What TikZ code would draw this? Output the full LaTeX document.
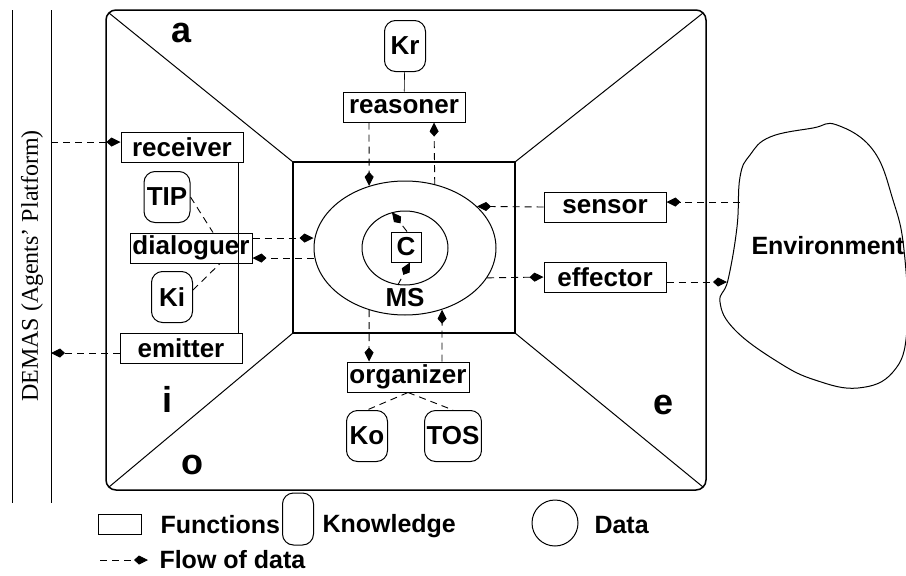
\documentclass[tikz,border=0pt]{standalone}
\usepackage{fontspec}
\setmainfont{Liberation Serif}
\setsansfont{Liberation Sans}
\usetikzlibrary{positioning,arrows.meta,calc,shapes.geometric}

\newcommand{\lab}{\sffamily\bfseries\fontsize{26}{28}\selectfont}
\newcommand{\leg}{\sffamily\bfseries\fontsize{25}{28}\selectfont}
\newcommand{\zone}{\sffamily\bfseries\fontsize{36}{38}\selectfont}

\tikzset{
  func/.style={draw, line width=1pt, minimum width=122pt, minimum height=30pt, inner sep=1pt, font=\lab},
  know/.style={draw, rounded corners=11pt, minimum height=51pt, inner sep=2pt, font=\lab},
  flow/.style={dash pattern=on 7pt off 5pt, line width=0.9pt, -{Kite[length=14pt,width=9pt,inset=5pt]}},
  link/.style={dash pattern=on 7pt off 5pt, line width=0.9pt},
}

\begin{document}
\begin{tikzpicture}[x=1pt,y=-1pt,line width=1pt]
  \useasboundingbox (0,0) rectangle (906,576);

  % platform band
  \draw (12,10) -- (12,503);
  \draw (51,10) -- (51,503);
  \node[rotate=90, font=\fontsize{24}{26}\selectfont] (demas) at (32,266) {DEMAS (Agents' Platform)};
  \coordinate (pin) at (51,142);
  \coordinate (pout) at (51,353);

  % agent frame
  \draw[line width=1.5pt, rounded corners=10pt] (106,10) rectangle (706,490);
  \draw[line width=1.3pt] (293,162) rectangle (515,333);
  \draw (109,13) -- (293,162);
  \draw (109,487) -- (293,333);
  \draw (703,13) -- (515,162);
  \draw (703,487) -- (515,333);

  \node[font=\zone] (za) at (182,33) {a};
  \node[font=\zone] (zi) at (167,399) {i};
  \node[font=\zone] (zo) at (192,465) {o};
  \node[font=\zone] (ze) at (664,405) {e};

  % interaction side
  \node[func] (receiver) at (182,147) {receiver};
  \node[know, minimum width=46pt] (tip) at (167,197) {TIP};
  \node[func] (dialoguer) at (191,248) {dialoguer};
  \node[know, minimum width=41pt] (ki) at (172,297) {Ki};
  \node[func] (emitter) at (181,348) {emitter};
  \draw ($(receiver.south east)+(-5,0)$) -- ($(emitter.north east)+(-4,0)$);

  % reasoning side
  \node[know, minimum width=41pt] (kr) at (405,46) {Kr};
  \node[func] (reasoner) at (404,107) {reasoner};

  % mental state
  \node[draw, ellipse, minimum width=182pt, minimum height=134pt] (ms) at (405,248) {};
  \node[draw, ellipse, minimum width=86pt, minimum height=74pt] (msin) at (405,248) {};
  \node[draw, font=\lab, minimum size=30pt, inner sep=1pt] (core) at (406,247) {C};
  \node[font=\lab] (mslab) at (405,298) {MS};

  % environment side
  \node[func] (sensor) at (605,207) {sensor};
  \node[func] (effector) at (605,277) {effector};
  \draw plot[smooth cycle, tension=0.7] coordinates {(740,177) (750,155) (770,137) (813,128) (837,125) (873,150) (893,200) (904,250) (907,330) (893,372) (858,388) (815,380) (778,362) (735,330) (720,302) (728,280) (737,227)};
  \node[font=\leg, anchor=base west, inner sep=0pt] (env) at (751,254) {Environment};
  \coordinate (envin) at (740,202);
  \coordinate (envout) at (727,282);

  % organization side
  \node[func] (organizer) at (408,377) {organizer};
  \node[know, minimum width=41pt] (ko) at (367,436) {Ko};
  \node[know, minimum width=50pt] (tos) at (453,436) {TOS};

  % flows
  \draw[flow] (pin) -- (pin -| receiver.west);
  \draw[flow] (pout -| emitter.west) -- (pout);
  \draw[flow] ([yshift=10pt]dialoguer.east) -- ([yshift=10pt]ms.west);
  \draw[flow] ([yshift=-10pt]ms.west) -- ([yshift=-10pt]dialoguer.east);
  \draw[flow] ([xshift=-35pt]reasoner.south) -- (ms.120);
  \draw[flow] (ms.65) -- ([xshift=30pt]reasoner.south);
  \draw[flow] (ms.-120) -- ([xshift=-39pt]organizer.north);
  \draw[flow] ([xshift=34pt]organizer.north) -- (ms.-59);
  \draw[flow] (envin) -- (envin -| sensor.east);
  \draw[flow] (sensor.west) -- (ms.30);
  \draw[flow] (ms.-20) -- (effector.west);
  \draw[flow] (envout -| effector.east) -- (envout);
  \draw[flow] ([xshift=1pt]core.north) -- (msin.110);
  \draw[flow] (msin.-101) -- ([xshift=4pt]core.south);

  % knowledge links
  \draw[link] (tip.east) -- ([xshift=22pt]dialoguer.north);
  \draw[link] ([yshift=7pt]ki.east) -- ([xshift=29pt]dialoguer.south);
  \draw[line width=0.6pt] (kr) -- (reasoner);
  \draw[link] (organizer.south) -- (ko.north);
  \draw[link] (organizer.south) -- (tos.north);

  % legend
  \node[draw, minimum width=43pt, minimum height=20pt] (lfunc) at (120,524) {};
  \node[font=\leg, anchor=base west, inner sep=0pt] (tfunc) at (160,533) {Functions};
  \node[draw, rounded corners=11pt, minimum width=31pt, minimum height=52pt] (lknow) at (298,519) {};
  \node[font=\leg, anchor=base west, inner sep=0pt] (tknow) at (322,532) {Knowledge};
  \node[draw, circle, minimum size=46pt, inner sep=0pt] (ldata) at (555,523) {};
  \node[font=\leg, anchor=base west, inner sep=0pt] (tdata) at (594,533) {Data};
  \coordinate (lflow0) at (100,560);
  \coordinate (lflow1) at (148,560);
  \draw[flow] (lflow0) -- (lflow1);
  \node[font=\leg, anchor=base west, inner sep=0pt] (tflow) at (159,568) {Flow of data};
\end{tikzpicture}
\end{document}
